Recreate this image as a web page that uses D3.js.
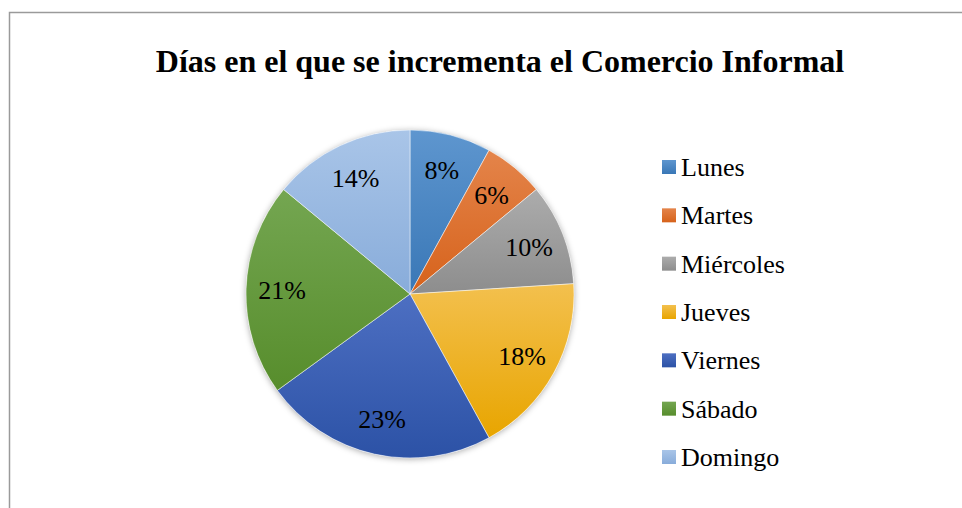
<!DOCTYPE html>
<html>
<head>
<meta charset="utf-8">
<script src="https://cdn.jsdelivr.net/npm/d3@7/dist/d3.min.js"></script>
<style>
  body { margin: 0; background: #fff; }
  svg text { font-family: "Liberation Serif", "Times New Roman", serif; }
</style>
</head>
<body>
<div id="chart"></div>
<script>
// chart data
var days = ["Lunes", "Martes", "Miércoles", "Jueves", "Viernes", "Sábado", "Domingo"];
var shares = [8, 6, 10, 18, 23, 21, 14];
var labels = ["8%", "6%", "10%", "18%", "23%", "21%", "14%"];

// top / bottom colour of each slice gradient
var topColors = ["#5e96cf", "#e4844a", "#acacac", "#f3c04e", "#4d6fc2", "#74a651", "#a9c5e8"];
var botColors = ["#3977b6", "#d6621b", "#8d8d8d", "#e8a500", "#2c52a6", "#578d2c", "#88acda"];

var w = 962, h = 508;
var cx = 410, cy = 294, r = 164;

var svg = d3.select("#chart").append("svg")
  .attr("width", w)
  .attr("height", h);

var defs = svg.append("defs");

// soft shadow around the pie
var filter = defs.append("filter")
  .attr("id", "shadow")
  .attr("x", "-20%").attr("y", "-20%")
  .attr("width", "140%").attr("height", "140%");
filter.append("feDropShadow")
  .attr("dx", 0).attr("dy", 1)
  .attr("stdDeviation", 3)
  .attr("flood-color", "#000")
  .attr("flood-opacity", 0.35);

days.forEach(function(d, i) {
  var g = defs.append("linearGradient")
    .attr("id", "grad-" + i)
    .attr("x1", 0).attr("y1", 0)
    .attr("x2", 0).attr("y2", 1);
  g.append("stop").attr("offset", "0%").attr("stop-color", topColors[i]);
  g.append("stop").attr("offset", "100%").attr("stop-color", botColors[i]);
});

// frame (only top and left edges are visible in the crop)
svg.append("rect")
  .attr("x", 9.5).attr("y", 12.5)
  .attr("width", w + 20).attr("height", h + 20)
  .attr("fill", "none")
  .attr("stroke", "#9a9a9a")
  .attr("stroke-width", 1.5);

// title
svg.append("text")
  .attr("x", 500)
  .attr("y", 72)
  .attr("text-anchor", "middle")
  .style("font-size", "32px")
  .style("font-weight", "bold")
  .text("Días en el que se incrementa el Comercio Informal");

var pie = d3.pie().sort(null).value(function(d) { return d; });
var arcs = pie(shares);
var arc = d3.arc().innerRadius(0).outerRadius(r);
var labelArc = d3.arc().innerRadius(128).outerRadius(128);

var pieG = svg.append("g")
  .attr("transform", "translate(" + cx + "," + cy + ")");

pieG.append("circle")
  .attr("r", r)
  .attr("fill", "#fff")
  .attr("filter", "url(#shadow)");

pieG.selectAll("path.slice")
  .data(arcs)
  .enter().append("path")
  .attr("class", "slice")
  .attr("d", arc)
  .attr("fill", function(d, i) { return "url(#grad-" + i + ")"; })
  .attr("stroke", "#fff")
  .attr("stroke-width", 0.5);

pieG.selectAll("text.lbl")
  .data(arcs)
  .enter().append("text")
  .attr("class", "lbl")
  .attr("transform", function(d) { return "translate(" + labelArc.centroid(d) + ")"; })
  .attr("text-anchor", "middle")
  .attr("dy", "0.35em")
  .style("font-size", "26px")
  .attr("fill", "#000")
  .text(function(d, i) { return labels[i]; });

// legend
var legY = d3.scalePoint().domain(days).range([167, 457]);
var leg = svg.append("g");
days.forEach(function(d, i) {
  var y = legY(d);
  leg.append("rect")
    .attr("x", 662).attr("y", y - 7)
    .attr("width", 14).attr("height", 14)
    .attr("fill", "url(#grad-" + i + ")");
  leg.append("text")
    .attr("x", 681).attr("y", y)
    .attr("dy", "0.35em")
    .style("font-size", "26px")
    .text(d);
});
</script>
</body>
</html>
